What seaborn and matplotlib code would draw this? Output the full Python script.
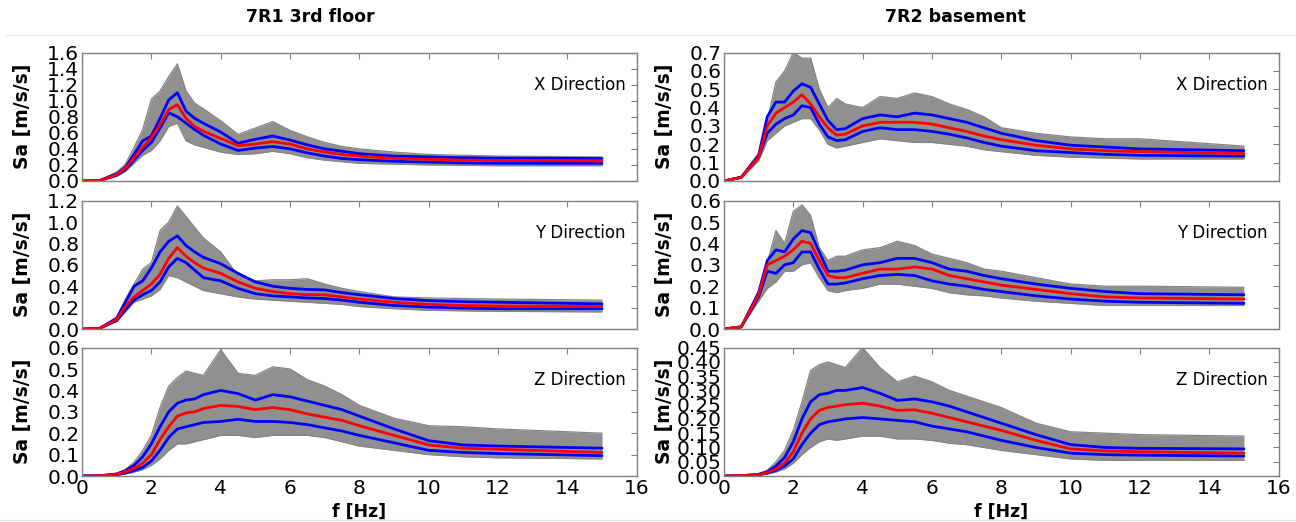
import numpy as np
import pandas as pd
import seaborn as sns
import matplotlib.pyplot as plt
from matplotlib.lines import Line2D
from matplotlib.ticker import FormatStrFormatter

# frequency grid [Hz]
freq = [0, 0.5, 1.0, 1.25, 1.5, 1.75, 2.0, 2.25, 2.5, 2.75, 3.0, 3.25, 3.5, 4.0,
        4.5, 5.0, 5.5, 6.0, 6.5, 7.0, 7.5, 8.0, 9.0, 10.0, 11.0, 12.0, 15.0]

# 7R1 3rd floor - X
r1x_med = [0, 0.003, 0.08, 0.16, 0.29, 0.42, 0.54, 0.70, 0.89, 0.95, 0.78, 0.68, 0.62, 0.53,
           0.44, 0.46, 0.49, 0.46, 0.40, 0.36, 0.33, 0.31, 0.28, 0.27, 0.26, 0.255, 0.25]
r1x_hi = [0, 0.004, 0.09, 0.17, 0.33, 0.50, 0.56, 0.78, 1.01, 1.10, 0.87, 0.78, 0.72, 0.61,
          0.47, 0.52, 0.56, 0.51, 0.45, 0.40, 0.37, 0.34, 0.31, 0.30, 0.29, 0.285, 0.28]
r1x_lo = [0, 0.003, 0.07, 0.14, 0.26, 0.38, 0.48, 0.66, 0.85, 0.80, 0.72, 0.64, 0.57, 0.46,
          0.38, 0.41, 0.43, 0.40, 0.35, 0.31, 0.28, 0.265, 0.245, 0.235, 0.225, 0.22, 0.22]
r1x_env_hi = [0, 0.006, 0.11, 0.21, 0.42, 0.64, 1.02, 1.12, 1.30, 1.46, 1.12, 0.97, 0.90, 0.75,
              0.58, 0.66, 0.74, 0.63, 0.55, 0.48, 0.43, 0.40, 0.36, 0.33, 0.32, 0.31, 0.30]
r1x_env_lo = [0, 0.002, 0.06, 0.12, 0.22, 0.32, 0.38, 0.50, 0.68, 0.72, 0.50, 0.45, 0.42, 0.36,
              0.33, 0.34, 0.37, 0.34, 0.29, 0.26, 0.24, 0.22, 0.21, 0.20, 0.195, 0.19, 0.19]

# 7R2 basement - X
r2x_med = [0, 0.02, 0.13, 0.30, 0.37, 0.40, 0.43, 0.47, 0.42, 0.35, 0.29, 0.25, 0.255, 0.30,
           0.32, 0.32, 0.32, 0.31, 0.29, 0.27, 0.245, 0.225, 0.195, 0.175, 0.165, 0.16, 0.15]
r2x_hi = [0, 0.02, 0.14, 0.35, 0.43, 0.43, 0.49, 0.53, 0.51, 0.42, 0.33, 0.28, 0.285, 0.34,
          0.36, 0.35, 0.37, 0.36, 0.34, 0.32, 0.29, 0.26, 0.22, 0.195, 0.185, 0.175, 0.165]
r2x_lo = [0, 0.02, 0.13, 0.26, 0.31, 0.34, 0.36, 0.41, 0.40, 0.31, 0.24, 0.22, 0.225, 0.27,
          0.29, 0.28, 0.28, 0.27, 0.255, 0.235, 0.21, 0.19, 0.165, 0.155, 0.145, 0.14, 0.135]
r2x_env_hi = [0, 0.025, 0.15, 0.33, 0.54, 0.60, 0.70, 0.67, 0.67, 0.50, 0.40, 0.45, 0.42, 0.40,
              0.46, 0.45, 0.48, 0.46, 0.42, 0.39, 0.35, 0.29, 0.26, 0.24, 0.23, 0.23, 0.19]
r2x_env_lo = [0, 0.015, 0.11, 0.22, 0.26, 0.30, 0.32, 0.34, 0.34, 0.28, 0.20, 0.18, 0.19, 0.21,
              0.23, 0.22, 0.21, 0.21, 0.20, 0.19, 0.17, 0.16, 0.14, 0.13, 0.125, 0.12, 0.12]

# 7R1 3rd floor - Y
r1y_med = [0, 0.005, 0.09, 0.21, 0.30, 0.36, 0.42, 0.51, 0.66, 0.76, 0.68, 0.62, 0.57, 0.52,
           0.44, 0.38, 0.35, 0.33, 0.32, 0.32, 0.30, 0.28, 0.25, 0.23, 0.22, 0.215, 0.21]
r1y_hi = [0, 0.006, 0.10, 0.25, 0.40, 0.45, 0.57, 0.72, 0.82, 0.87, 0.78, 0.72, 0.67, 0.61,
          0.52, 0.44, 0.40, 0.38, 0.37, 0.365, 0.34, 0.32, 0.285, 0.265, 0.255, 0.25, 0.235]
r1y_lo = [0, 0.004, 0.08, 0.18, 0.27, 0.32, 0.36, 0.44, 0.58, 0.66, 0.62, 0.55, 0.48, 0.45,
          0.38, 0.33, 0.31, 0.30, 0.29, 0.285, 0.27, 0.25, 0.22, 0.205, 0.195, 0.19, 0.19]
r1y_env_hi = [0, 0.008, 0.11, 0.28, 0.42, 0.56, 0.62, 0.92, 1.00, 1.15, 1.05, 0.95, 0.85, 0.72,
              0.50, 0.45, 0.46, 0.46, 0.47, 0.42, 0.38, 0.35, 0.30, 0.29, 0.285, 0.28, 0.27]
r1y_env_lo = [0, 0.003, 0.07, 0.16, 0.25, 0.28, 0.31, 0.37, 0.50, 0.48, 0.44, 0.40, 0.36, 0.33,
              0.30, 0.28, 0.27, 0.26, 0.25, 0.24, 0.23, 0.21, 0.19, 0.175, 0.17, 0.165, 0.16]

# 7R2 basement - Y
r2y_med = [0, 0.01, 0.16, 0.30, 0.32, 0.34, 0.37, 0.41, 0.40, 0.32, 0.25, 0.24, 0.24, 0.26,
           0.28, 0.28, 0.29, 0.28, 0.25, 0.235, 0.22, 0.205, 0.185, 0.165, 0.15, 0.145, 0.14]
r2y_hi = [0, 0.01, 0.17, 0.32, 0.37, 0.36, 0.42, 0.46, 0.45, 0.36, 0.27, 0.27, 0.275, 0.30,
          0.31, 0.33, 0.33, 0.31, 0.28, 0.27, 0.25, 0.235, 0.21, 0.19, 0.175, 0.165, 0.16]
r2y_lo = [0, 0.01, 0.15, 0.27, 0.26, 0.30, 0.31, 0.36, 0.36, 0.28, 0.21, 0.21, 0.215, 0.235,
          0.25, 0.255, 0.25, 0.225, 0.21, 0.20, 0.185, 0.175, 0.155, 0.14, 0.13, 0.125, 0.12]
r2y_env_hi = [0, 0.012, 0.18, 0.31, 0.46, 0.40, 0.55, 0.58, 0.53, 0.38, 0.32, 0.34, 0.34, 0.37,
              0.38, 0.41, 0.39, 0.35, 0.33, 0.31, 0.28, 0.27, 0.24, 0.21, 0.20, 0.20, 0.195]
r2y_env_lo = [0, 0.008, 0.13, 0.19, 0.22, 0.27, 0.27, 0.30, 0.31, 0.24, 0.18, 0.17, 0.18, 0.19,
              0.21, 0.21, 0.20, 0.19, 0.17, 0.16, 0.155, 0.145, 0.13, 0.12, 0.11, 0.11, 0.11]

# 7R1 3rd floor - Z
r1z_med = [0, 0.001, 0.008, 0.02, 0.035, 0.06, 0.10, 0.17, 0.23, 0.28, 0.295, 0.30, 0.315, 0.33,
           0.325, 0.31, 0.32, 0.31, 0.29, 0.275, 0.26, 0.235, 0.19, 0.145, 0.13, 0.125, 0.11]
r1z_hi = [0, 0.001, 0.01, 0.025, 0.05, 0.09, 0.15, 0.23, 0.30, 0.34, 0.355, 0.36, 0.38, 0.40,
          0.385, 0.355, 0.38, 0.37, 0.35, 0.33, 0.31, 0.28, 0.22, 0.165, 0.145, 0.14, 0.13]
r1z_lo = [0, 0.001, 0.006, 0.014, 0.025, 0.04, 0.07, 0.12, 0.18, 0.22, 0.23, 0.24, 0.25, 0.255,
          0.265, 0.255, 0.255, 0.25, 0.24, 0.225, 0.21, 0.19, 0.155, 0.12, 0.11, 0.105, 0.095]
r1z_env_hi = [0, 0.002, 0.012, 0.03, 0.065, 0.12, 0.19, 0.32, 0.42, 0.46, 0.49, 0.48, 0.47, 0.59,
              0.48, 0.47, 0.51, 0.50, 0.45, 0.42, 0.38, 0.33, 0.27, 0.235, 0.23, 0.22, 0.20]
r1z_env_lo = [0, 0.0005, 0.004, 0.01, 0.018, 0.03, 0.05, 0.08, 0.12, 0.15, 0.15, 0.16, 0.17, 0.19,
              0.19, 0.18, 0.19, 0.19, 0.19, 0.18, 0.16, 0.14, 0.12, 0.10, 0.09, 0.085, 0.08]

# 7R2 basement - Z
r2z_med = [0, 0.001, 0.005, 0.012, 0.025, 0.045, 0.085, 0.15, 0.20, 0.23, 0.24, 0.245, 0.25, 0.255,
           0.245, 0.23, 0.232, 0.22, 0.205, 0.19, 0.175, 0.16, 0.125, 0.095, 0.088, 0.085, 0.08]
r2z_hi = [0, 0.001, 0.006, 0.015, 0.035, 0.065, 0.12, 0.20, 0.26, 0.285, 0.29, 0.30, 0.30, 0.31,
          0.29, 0.265, 0.27, 0.26, 0.245, 0.225, 0.205, 0.185, 0.145, 0.11, 0.10, 0.097, 0.095]
r2z_lo = [0, 0.001, 0.004, 0.01, 0.02, 0.035, 0.06, 0.11, 0.15, 0.18, 0.19, 0.195, 0.20, 0.205,
          0.20, 0.195, 0.19, 0.175, 0.165, 0.155, 0.14, 0.125, 0.10, 0.08, 0.075, 0.073, 0.07]
r2z_env_hi = [0, 0.002, 0.008, 0.02, 0.05, 0.09, 0.16, 0.26, 0.37, 0.39, 0.40, 0.39, 0.38, 0.45,
              0.38, 0.33, 0.35, 0.33, 0.30, 0.28, 0.26, 0.24, 0.185, 0.155, 0.15, 0.145, 0.14]
r2z_env_lo = [0, 0.0005, 0.003, 0.007, 0.014, 0.025, 0.045, 0.075, 0.10, 0.12, 0.13, 0.125, 0.13, 0.14,
              0.14, 0.13, 0.13, 0.125, 0.115, 0.11, 0.10, 0.09, 0.075, 0.06, 0.055, 0.055, 0.055]

col_titles = ['7R1 3rd floor', '7R2 basement']
directions = ['X Direction', 'Y Direction', 'Z Direction']

# (row, col): series, y max, y step, tick format
panels = {
    (0, 0): (r1x_med, r1x_hi, r1x_lo, r1x_env_hi, r1x_env_lo, 1.6, 0.2, '%.1f'),
    (0, 1): (r2x_med, r2x_hi, r2x_lo, r2x_env_hi, r2x_env_lo, 0.7, 0.1, '%.1f'),
    (1, 0): (r1y_med, r1y_hi, r1y_lo, r1y_env_hi, r1y_env_lo, 1.2, 0.2, '%.1f'),
    (1, 1): (r2y_med, r2y_hi, r2y_lo, r2y_env_hi, r2y_env_lo, 0.6, 0.1, '%.1f'),
    (2, 0): (r1z_med, r1z_hi, r1z_lo, r1z_env_hi, r1z_env_lo, 0.6, 0.1, '%.1f'),
    (2, 1): (r2z_med, r2z_hi, r2z_lo, r2z_env_hi, r2z_env_lo, 0.45, 0.05, '%.2f'),
}

sns.set_style('white')
plt.rcParams['font.family'] = ['DejaVu Sans']
plt.rcParams['text.color'] = 'black'
plt.rcParams['axes.labelcolor'] = 'black'

fig = plt.figure(figsize=(12.96, 5.22), dpi=100)
col_x = [0.0633, 0.5586]
row_y = [0.6533, 0.3697, 0.0881]
w, h = 0.428, 0.246
n = len(freq)

for (r, c), (med, hi, lo, env_hi, env_lo, ymax, ystep, fmt) in panels.items():
    ax = fig.add_axes([col_x[c], row_y[r], w, h])
    # band of individual records
    ax.fill_between(freq, env_lo, env_hi, color='#909090', lw=0)
    sns.lineplot(x=freq, y=env_hi, color='#858585', lw=0.9, ax=ax)
    sns.lineplot(x=freq, y=env_lo, color='#858585', lw=0.9, ax=ax)

    df = pd.DataFrame({'f': freq * 3,
                       'Sa': hi + lo + med,
                       'curve': ['hi'] * n + ['lo'] * n + ['med'] * n})
    sns.lineplot(data=df, x='f', y='Sa', hue='curve', hue_order=['hi', 'lo', 'med'],
                 palette={'hi': '#0000ff', 'lo': '#0000ff', 'med': '#ff0000'},
                 estimator=None, lw=2, legend=False, ax=ax)

    ax.set_xlim(0, 16)
    ax.set_ylim(0, ymax)
    ax.set_xticks(range(0, 17, 2))
    ax.set_yticks(np.arange(0, ymax + 1e-9, ystep))
    ax.yaxis.set_major_formatter(FormatStrFormatter(fmt))
    ax.tick_params(direction='in', top=True, right=True, length=4, width=0.8,
                   color='#808080', labelcolor='black', labelsize=14.5, pad=2)
    for sp in ax.spines.values():
        sp.set_color('#808080')
        sp.set_linewidth(1)

    ax.set_ylabel('Sa [m/s/s]', fontweight='bold', fontsize=13.5)
    ax.yaxis.set_label_coords(-0.09, 0.5)
    if r == 2:
        ax.set_xlabel('f [Hz]', fontweight='bold', fontsize=12.5, labelpad=3.5)
    else:
        ax.set_xlabel('')
        ax.set_xticklabels([])
    ax.text(0.98, 0.75, directions[r], transform=ax.transAxes, ha='right', va='center',
            fontsize=12)

fig.text(310 / 1296, 1 - 17 / 522, col_titles[0], ha='center', va='center',
         fontweight='bold', fontsize=12.5)
fig.text(955 / 1296, 1 - 17 / 522, col_titles[1], ha='center', va='center',
         fontweight='bold', fontsize=12.5)
fig.add_artist(Line2D([0.005, 1.0], [0.933, 0.933], color='#e6e6e6', lw=1))
fig.add_artist(Line2D([0.0, 1.0], [0.004, 0.004], color='#e6e6e6', lw=1))

fig.savefig('out.png', dpi=100)
